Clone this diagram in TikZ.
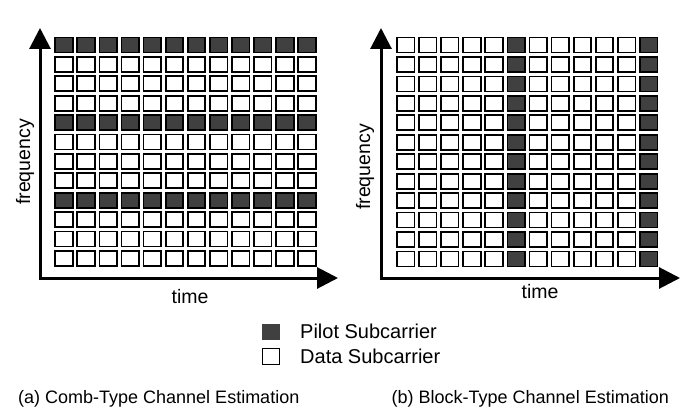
\documentclass[tikz,border=0pt]{standalone}
\usepackage{fontspec}
\setmainfont{Liberation Sans}
\usepackage{tikz}
\usetikzlibrary{arrows.meta}
\definecolor{pilotgray}{RGB}{64,64,64}
\tikzset{
  cell/.style={draw=black, line width=1.7pt, fill=white},
  pilotcell/.style={cell, fill=pilotgray},
  axisline/.style={line width=3pt, {Triangle[length=21pt,width=21pt]}-{Triangle[length=21pt,width=21pt]}},
  axislabel/.style={font=\fontsize{19.5}{22}\selectfont, inner sep=0pt},
  legendtext/.style={font=\fontsize{20}{22}\selectfont, anchor=base west, inner sep=0pt},
  captiontext/.style={font=\fontsize{18}{20}\selectfont, anchor=base west, inner sep=0pt}
}
\begin{document}
\begin{tikzpicture}[x=1pt, y=-1pt]
\useasboundingbox (0,0) rectangle (698,414);
% (a) comb type
\foreach \c in {0,...,11} \foreach \r in {0,...,11}
  \draw[cell] ({55.15+22.1*\c},{37.55+19.39*\r}) rectangle +(17.5,15);
\foreach \r in {0,4,8} \foreach \c in {0,...,11}
  \draw[pilotcell] ({55.15+22.1*\c},{37.55+19.39*\r}) rectangle +(17.5,15);
\coordinate (freqA) at (40,28);
\coordinate (origA) at (40,278);
\coordinate (timeA) at (338,278);
\draw[axisline] (freqA) -- (origA) -- (timeA);
\node[axislabel, rotate=90] (freqlabelA) at (25,162) {frequency};
\node[axislabel, anchor=base] (timelabelA) at (190,303) {time};
% (b) block type
\foreach \c in {0,...,11} \foreach \r in {0,...,11}
  \draw[cell] ({396.85+22.1*\c},{37.55+19.45*\r}) rectangle +(17.5,15);
\foreach \c in {5,11} \foreach \r in {0,...,11}
  \draw[pilotcell] ({396.85+22.1*\c},{37.55+19.45*\r}) rectangle +(17.5,15);
\coordinate (freqB) at (381,28);
\coordinate (origB) at (381,278);
\coordinate (timeB) at (680,278);
\draw[axisline] (freqB) -- (origB) -- (timeB);
\node[axislabel, rotate=90] (freqlabelB) at (365,167) {frequency};
\node[axislabel, anchor=base] (timelabelB) at (540,298) {time};
% legend
\fill[pilotgray] (262,324) rectangle (280,340);
\draw[line width=0.8pt] (262.4,348.4) rectangle (279.6,364.6);
\node[legendtext] (pilotlabel) at (300,338.3) {Pilot Subcarrier};
\node[legendtext] (datalabel) at (300,363.3) {Data Subcarrier};
% captions
\node[captiontext] (captionA) at (18,403) {(a) Comb-Type Channel Estimation};
\node[captiontext] (captionB) at (391.5,403) {(b) Block-Type Channel Estimation};
\end{tikzpicture}
\end{document}
